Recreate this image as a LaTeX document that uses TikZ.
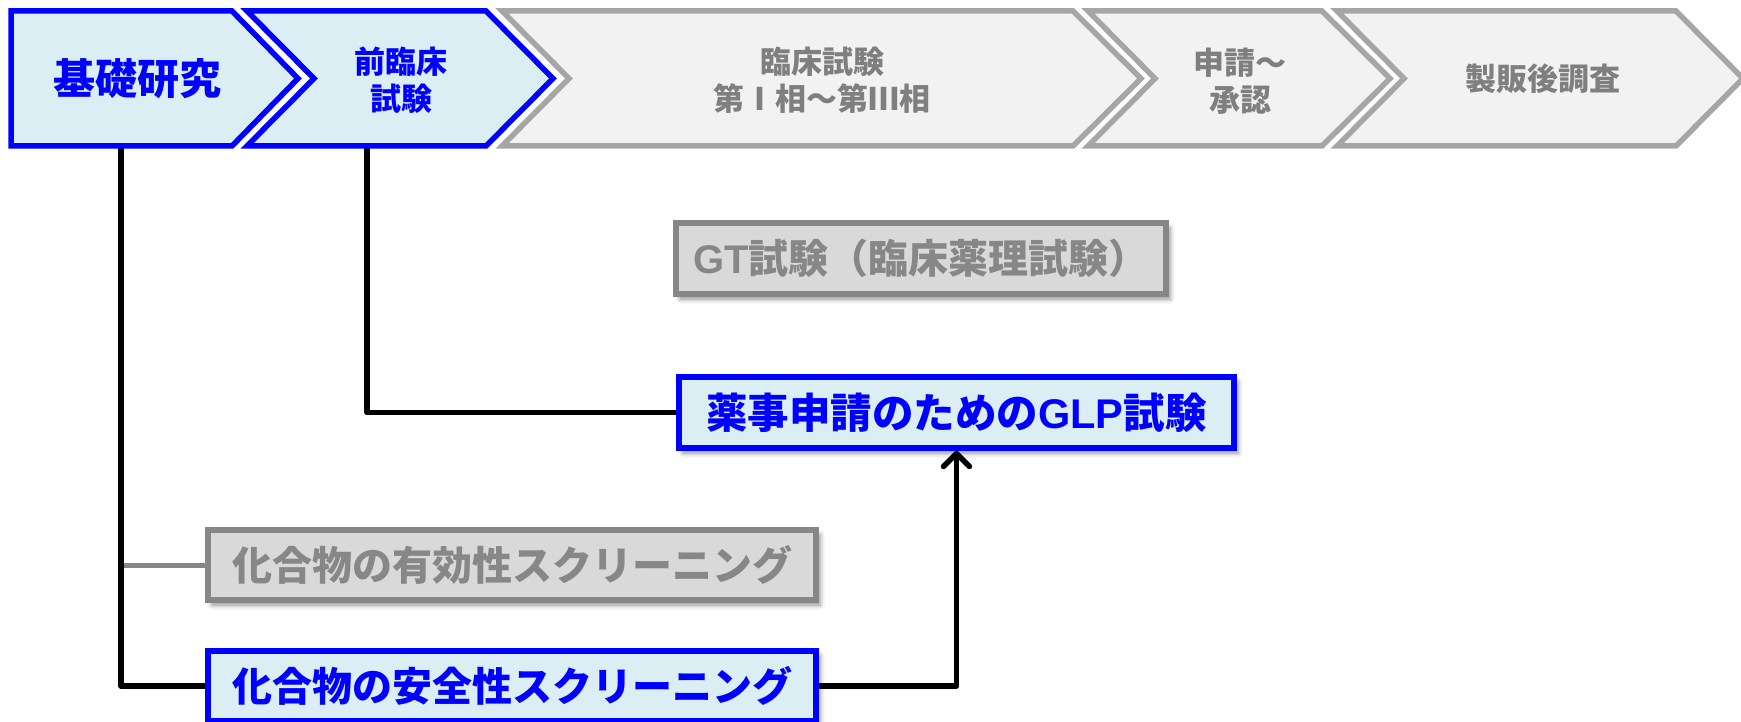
\documentclass[tikz,border=0pt]{standalone}
\usepackage{fontspec}
\newfontfamily\jp{Noto Sans CJK JP}
\newfontfamily\lat{Liberation Sans}
\usetikzlibrary{arrows.meta,shadows.blur}
\definecolor{bl}{HTML}{0000FF}
\definecolor{lb}{HTML}{DAEEF3}
\definecolor{gf}{HTML}{F2F2F2}
\definecolor{gs}{HTML}{A6A6A6}
\definecolor{gtx}{HTML}{7F7F7F}
\definecolor{bf}{HTML}{D9D9D9}
\definecolor{bs}{HTML}{878787}
\pgfdeclarelayer{bg}
\pgfsetlayers{bg,main}
\tikzset{
  chevb/.style={draw=bl, fill=lb, line width=5.5pt, line join=miter},
  chevg/.style={draw=gs, fill=gf, line width=5.5pt, line join=miter},
  ctext/.style={font=\jp\bfseries\fontsize{31}{37}\selectfont, align=center, inner sep=0pt},
  shad/.style={blur shadow={shadow xshift=4pt, shadow yshift=-5pt, shadow blur radius=5pt, shadow opacity=45}},
  boxbase/.style={line width=5.5pt, inner sep=0pt, minimum height=71pt, font=\jp\bfseries\fontsize{40}{48}\selectfont, shad},
  bluebox/.style={boxbase, draw=bl, fill=lb, text=bl},
  graybox/.style={boxbase, draw=bs, fill=bf, text=bs},
  conn/.style={line width=5.5pt, draw=black, line join=round},
  gconn/.style={line width=5pt, draw=bs},
}
\begin{document}
\begin{tikzpicture}[x=1pt,y=-1pt]
\useasboundingbox (0,0) rectangle (1741,722);
\clip (0,0) rectangle (1741,722);
% chevrons
\draw[chevb] (11,11) -- (232,11) -- (298,78.5) -- (232,146) -- (11,146) -- cycle;
\draw[chevb] (247,11) -- (486,11) -- (553,78.5) -- (486,146) -- (247,146) -- (314,78.5) -- cycle;
\draw[chevg] (502,11) -- (1073,11) -- (1141,78.5) -- (1073,146) -- (502,146) -- (569,78.5) -- cycle;
\draw[chevg] (1088,11) -- (1322,11) -- (1390,78.5) -- (1322,146) -- (1088,146) -- (1155,78.5) -- cycle;
\draw[chevg] (1337,11) -- (1676,11) -- (1743,78.5) -- (1676,146) -- (1337,146) -- (1404,78.5) -- cycle;
\node[ctext, text=bl, font=\jp\bfseries\fontsize{42}{48}\selectfont] (t1) at (137,79) {基礎研究};
\node[ctext, text=bl] (t2) at (401,80) {前臨床\\試験};
\node[ctext, text=gtx] (t3) at (822,80) {臨床試験\\第Ⅰ相～第Ⅲ相};
\node[ctext, text=gtx] (t4) at (1240,81) {申請～\\承認};
\node[ctext, text=gtx] (t5) at (1543,79) {製販後調査};
% boxes
\node[graybox, minimum width=490pt] (gt) at (921,258.5) {{\lat GT}試験（臨床薬理試験）};
\node[bluebox, minimum width=555pt, font=\jp\bfseries\fontsize{41.5}{48}\selectfont] (glp) at (956.5,412.5) {薬事申請のための{\lat GLP}試験};
\node[graybox, minimum width=608pt, minimum height=70pt] (eff) at (512,565) {化合物の有効性スクリーニング};
\node[bluebox, minimum width=608pt, minimum height=70pt] (safe) at (512,686) {化合物の安全性スクリーニング};
% connectors
\coordinate (p1) at (121,146);
\coordinate (p2) at (367,146);
\coordinate (br) at (p1 |- eff.west);
\begin{pgfonlayer}{bg}
\draw[gconn] (br) -- (eff.west);
\draw[conn] (p1) |- (safe.west);
\draw[conn] (p2) |- (glp.west);
\end{pgfonlayer}
\draw[conn, -{Straight Barb[length=13pt, width=26pt, round]}] (safe.east) -| (glp.south);
\end{tikzpicture}
\end{document}
